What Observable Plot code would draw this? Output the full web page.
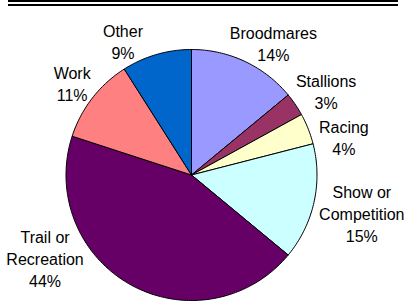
<!DOCTYPE html>
<html><head><meta charset="utf-8">
<script src="https://cdn.jsdelivr.net/npm/d3@7"></script>
<script src="https://cdn.jsdelivr.net/npm/@observablehq/plot@0.6"></script>
<style>
body{margin:0;background:#fff;}
#rules{height:2px;border-top:2px solid #000;border-bottom:2px solid #000;margin:0 8px;}
</style></head><body>
<div id="rules"></div>
<div id="chart"></div>
<script>
// Data
const categories = ["Broodmares", "Stallions", "Racing", "Show or Competition", "Trail or Recreation", "Work", "Other"];
const labels = ["Broodmares", "Stallions", "Racing", "Show or\nCompetition", "Trail or\nRecreation", "Work", "Other"];
const percents = [14, 3, 4, 15, 44, 11, 9];
const colors = ["#9999FF", "#993366", "#FFFFCC", "#CCFFFF", "#660066", "#FF8080", "#0066CC"];

// Layout
const W = 406, H = 297;
const cx = 191, cy = 168.5, r = 125.5;
const fontFamily = '"Liberation Sans", Arial, Helvetica, sans-serif';
const fontSize = 16, lineGap = 22, capH = 12;
const TOP = 19, BOTTOM = 280, LEFT = 0, RIGHT = 404, PAD = 12;
const ring = r * 1.056;

const arcs = d3.pie().sort(null).value(d => d)(percents);

const slicePoints = arcs.flatMap((a, i) => {
  const cat = categories[i];
  const n = Math.max(2, Math.ceil((a.endAngle - a.startAngle) / (Math.PI / 180)));
  const pts = [{cat, x: 0, y: 0}];
  for (let k = 0; k <= n; k++) {
    const t = a.startAngle + (a.endAngle - a.startAngle) * k / n;
    pts.push({cat, x: Math.sin(t), y: Math.cos(t)});
  }
  pts.push({cat, x: 0, y: 0});
  return pts;
});

const ctx = document.createElement("canvas").getContext("2d");
ctx.font = `${fontSize}px ${fontFamily}`;
const items = arcs.map((a, i) => {
  const text = `${labels[i]}\n${percents[i]}%`;
  const lines = text.split("\n");
  const w = Math.max(...lines.map(l => ctx.measureText(l).width));
  const h = (lines.length - 1) * lineGap + capH;
  return {i, text, w, h, theta: (a.startAngle + a.endAngle) / 2};
});
function boxOf(it) {
  const s = Math.sin(it.theta), c = Math.cos(it.theta);
  const px = cx + ring * s + s * it.w / 2, py = cy - ring * c - c * it.h / 2;
  return {x0: px - it.w / 2, x1: px + it.w / 2, y0: py - it.h / 2, y1: py + it.h / 2, px, py};
}
const step = Math.PI / 360;
for (let iter = 0; iter < 500; iter++) {
  let moved = false;
  for (const it of items) {
    const b = boxOf(it), s = Math.sin(it.theta), c = Math.cos(it.theta);
    let d = 0;
    if (b.y0 < TOP) d = s > 0 ? 1 : -1;
    else if (b.y1 > BOTTOM) d = s > 0 ? -1 : 1;
    else if (b.x1 > RIGHT) d = c > 0 ? -1 : 1;
    else if (b.x0 < LEFT) d = c > 0 ? 1 : -1;
    if (d) { it.theta += d * step; moved = true; }
  }
  for (let k = 1; k < items.length; k++) {
    const a = boxOf(items[k - 1]), b = boxOf(items[k]);
    if (a.x0 - PAD < b.x1 && b.x0 < a.x1 + PAD && a.y0 - PAD < b.y1 && b.y0 < a.y1 + PAD) {
      items[k].theta += step; moved = true;
    }
  }
  if (!moved) break;
}

const chart = Plot.plot({
  width: W, height: H, margin: 0,
  style: {fontFamily, background: "#fff"},
  x: {domain: [-1, 1], range: [cx - r, cx + r], axis: null},
  y: {domain: [-1, 1], range: [cy + r, cy - r], axis: null},
  color: {domain: categories, range: colors},
  marks: [
    Plot.text(items, {
      x: d => (boxOf(d).px - cx) / r,
      y: d => (cy - boxOf(d).py) / r,
      text: "text", fontSize, lineHeight: lineGap / fontSize,
      fill: "#000", textAnchor: "middle", fontFamily
    }),
    Plot.line(slicePoints, {x: "x", y: "y", z: "cat", fill: "cat", stroke: "#000", strokeWidth: 1, strokeLinejoin: "round"})
  ]
});
document.getElementById("chart").appendChild(chart);
</script>
</body></html>
